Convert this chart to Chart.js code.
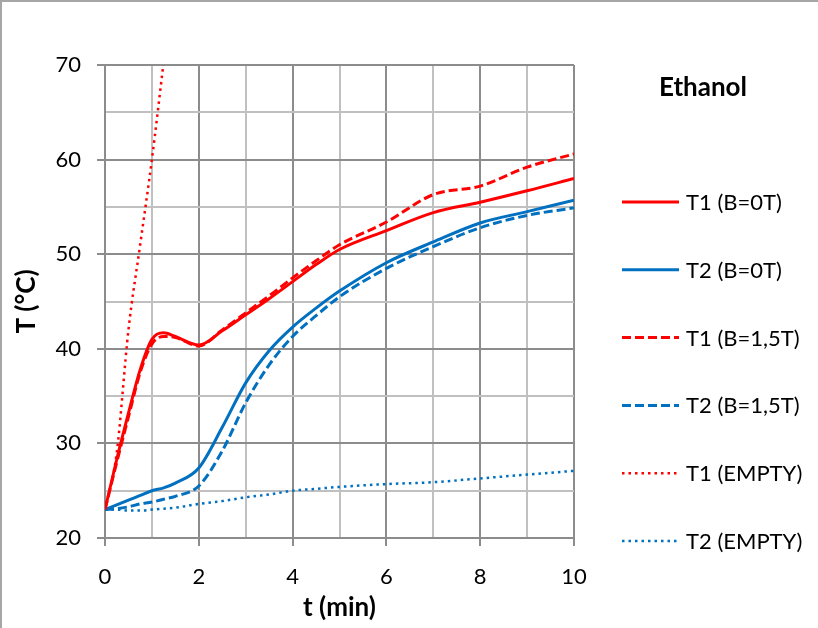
<!DOCTYPE html>
<html>
<head>
<meta charset="utf-8">
<title>Ethanol</title>
<script src="https://cdn.jsdelivr.net/npm/chart.js@4/dist/chart.umd.min.js"></script>
<style>
  body { margin: 0; background: #fff; }
  #wrap { position: relative; width: 818px; height: 628px; }
  #frame { position: absolute; left: 0; top: 0; right: 0; bottom: 0;
           border-top: 2px solid #a6a6a6; border-left: 2px solid #a6a6a6; pointer-events: none; }
</style>
</head>
<body>
<div id="wrap">
  <canvas id="chart" width="818" height="628"></canvas>
  <div id="frame"></div>
</div>
<script>
// Time (min)
const time = [0, 0.25, 0.5, 0.75, 1, 1.25, 1.5, 2, 2.5, 3, 3.5, 4, 4.5, 5, 6, 7, 8, 9, 10];

// Temperatures (°C)
const t1B0   = [23, 28.3, 33.2, 37.8, 41.0, 41.7, 41.3, 40.4, 41.9, 43.6, 45.3, 47.1, 48.9, 50.5, 52.5, 54.4, 55.5, 56.7, 58.0];
const t2B0   = [23, 23.5, 24.0, 24.5, 25.0, 25.3, 25.8, 27.4, 31.7, 36.4, 39.8, 42.3, 44.3, 46.1, 49.1, 51.3, 53.3, 54.5, 55.7];
const t1B15  = [23, 28.0, 32.8, 37.5, 40.5, 41.3, 41.2, 40.3, 42.0, 43.8, 45.6, 47.5, 49.3, 51.0, 53.4, 56.3, 57.2, 59.2, 60.6];
const t2B15  = [23, 23.1, 23.3, 23.6, 23.8, 24.1, 24.4, 25.5, 29.2, 34.3, 38.3, 41.3, 43.5, 45.5, 48.5, 50.8, 52.8, 54.1, 54.9];
const t1Empty = [23, 29, 42, 51, 60, 70.3, null, null, null, null, null, null, null, null, null, null, null, null, null];
const t2Empty = [23, 23.0, 22.9, 22.9, 23.0, 23.1, 23.2, 23.6, 23.9, 24.3, 24.6, 25.0, 25.2, 25.4, 25.7, 25.9, 26.3, 26.7, 27.1];

const labels = ['T1 (B=0T)', 'T2 (B=0T)', 'T1 (B=1,5T)', 'T2 (B=1,5T)', 'T1 (EMPTY)', 'T2 (EMPTY)'];
const xTicks = [0, 2, 4, 6, 8, 10];
const yTicks = [20, 30, 40, 50, 60, 70];

const RED = '#ff0000';
const BLUE = '#0070c0';
const FONT = 'Lato, Carlito, Calibri, sans-serif';

function points(values) {
  return time.map((t, i) => ({ x: t, y: values[i] }));
}

function series(label, values, color, dash, width) {
  return {
    label: label,
    data: points(values),
    borderColor: color,
    backgroundColor: color,
    borderWidth: width,
    borderDash: dash,
    pointRadius: 0,
    cubicInterpolationMode: 'monotone',
    fill: false,
    spanGaps: false,
  };
}

const datasets = [
  series(labels[0], t1B0, RED, [], 3),
  series(labels[1], t2B0, BLUE, [], 3),
  series(labels[2], t1B15, RED, [9, 4], 3),
  series(labels[3], t2B15, BLUE, [9, 4], 3),
  series(labels[4], t1Empty, RED, [2.5, 4], 2.5),
  series(labels[5], t2Empty, BLUE, [2.5, 4], 2.5),
];

// legend on the right, drawn on the canvas
const sideLegend = {
  id: 'sideLegend',
  afterDraw(chart) {
    const ctx = chart.ctx;
    ctx.save();
    ctx.fillStyle = '#000';
    ctx.textBaseline = 'middle';
    ctx.textAlign = 'center';
    ctx.font = 'bold 26px ' + FONT;
    ctx.fillText('Ethanol', 703, 88);

    ctx.textAlign = 'left';
    ctx.font = '22px ' + FONT;
    chart.data.datasets.forEach((ds, i) => {
      const y = 202 + i * 67.8;
      ctx.beginPath();
      ctx.strokeStyle = ds.borderColor;
      ctx.lineWidth = ds.borderWidth;
      ctx.setLineDash(ds.borderDash);
      ctx.moveTo(622, y);
      ctx.lineTo(679, y);
      ctx.stroke();
      ctx.setLineDash([]);
      ctx.fillText(ds.label, 686, y + 1);
    });
    ctx.restore();
  }
};

const MAJOR = '#8c8c8c';
const MINOR = '#c0c0c0';

new Chart(document.getElementById('chart'), {
  type: 'line',
  data: { datasets: datasets },
  options: {
    responsive: false,
    animation: false,
    layout: { padding: { top: 65, right: 244, left: 0, bottom: 0 } },
    plugins: {
      legend: { display: false },
      tooltip: { enabled: false },
    },
    scales: {
      x: {
        type: 'linear',
        min: 0,
        max: 10,
        afterFit: (scale) => { scale.height = 90; },
        ticks: {
          stepSize: 1,
          autoSkip: false,
          maxRotation: 0,
          padding: 18,
          color: '#000',
          font: { family: FONT, size: 22 },
          callback: (v) => xTicks.includes(v) ? String(v) : '',
        },
        grid: {
          color: (c) => xTicks.includes(c.tick && c.tick.value) ? MAJOR : MINOR,
          tickColor: (c) => xTicks.includes(c.tick && c.tick.value) ? MAJOR : 'rgba(0,0,0,0)',
          lineWidth: 2,
          tickLength: 8,
        },
        border: { color: MAJOR, width: 2 },
        title: {
          display: true,
          text: 't (min)',
          color: '#000',
          font: { family: FONT, size: 26, weight: 'bold' },
          padding: { top: 0, bottom: 5 },
        },
      },
      y: {
        min: 20,
        max: 70,
        afterFit: (scale) => { scale.width = 105; },
        ticks: {
          stepSize: 5,
          autoSkip: false,
          padding: 16,
          color: '#000',
          font: { family: FONT, size: 22 },
          callback: (v) => yTicks.includes(v) ? String(v) : '',
        },
        grid: {
          color: (c) => yTicks.includes(c.tick && c.tick.value) ? MAJOR : MINOR,
          tickColor: (c) => yTicks.includes(c.tick && c.tick.value) ? MAJOR : 'rgba(0,0,0,0)',
          lineWidth: 2,
          tickLength: 8,
        },
        border: { color: MAJOR, width: 2 },
        title: {
          display: true,
          text: 'T (°C)',
          color: '#000',
          font: { family: FONT, size: 26, weight: 'bold' },
          padding: { top: 11, bottom: 0 },
        },
      },
    },
  },
  plugins: [sideLegend],
});
</script>
</body>
</html>
